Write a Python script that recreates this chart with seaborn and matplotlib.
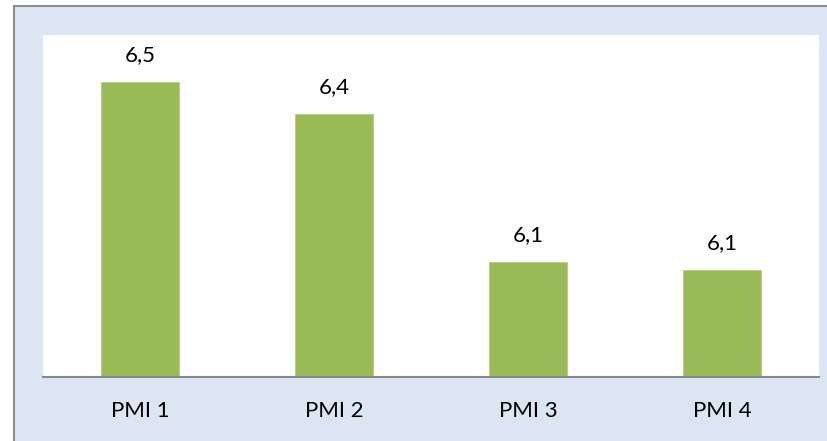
import matplotlib
matplotlib.use("Agg")
import matplotlib.pyplot as plt
import seaborn as sns
import pandas as pd
from matplotlib.patches import Rectangle

# data (labels are rounded to one decimal)
categorias = ["PMI 1", "PMI 2", "PMI 3", "PMI 4"]
valores = [6.49, 6.415, 6.07, 6.05]
etiquetas = ["6,5", "6,4", "6,1", "6,1"]

df = pd.DataFrame({"cat": categorias, "val": valores})

sns.set_theme(style="white")
plt.rcParams["font.family"] = ["Lato", "DejaVu Sans"]

W, H = 827, 441
fig = plt.figure(figsize=(W / 100, H / 100), dpi=100, facecolor="white")

# outer light-blue frame with grey top/left border
fig.patches.append(Rectangle((14 / W, 0), 1 - 14 / W, 1 - 6 / H, transform=fig.transFigure,
                             facecolor="#DCE6F2", edgecolor="none", zorder=-10))
fig.add_artist(plt.Line2D([14 / W, 14 / W], [0, 1 - 6 / H], transform=fig.transFigure,
                          color="#8C8C8C", lw=1.5, zorder=-5))
fig.add_artist(plt.Line2D([14 / W, 1], [1 - 6 / H, 1 - 6 / H], transform=fig.transFigure,
                          color="#8C8C8C", lw=1.5, zorder=-5))

ax = fig.add_axes([43 / W, 1 - 377 / H, (819 - 43) / W, (377 - 35) / H])
ax.set_facecolor("white")

sns.barplot(data=df, x="cat", y="val", color="#9BBB59", width=0.4, saturation=1,
            edgecolor="#B3CC80", linewidth=0.6, ax=ax)

ax.set_ylim(5.8, 6.6)
ax.set_xlim(-0.5, 3.5)

for i, (v, t) in enumerate(zip(valores, etiquetas)):
    ax.annotate(t, (i, v), xytext=(0, 12), textcoords="offset points",
                ha="center", va="bottom", fontsize=16, color="black")

for s in ["top", "left", "right"]:
    ax.spines[s].set_visible(False)
ax.spines["bottom"].set_color("#888888")
ax.spines["bottom"].set_linewidth(1.5)
ax.set_yticks([])
ax.set_xlabel("")
ax.set_ylabel("")
ax.tick_params(axis="x", length=0, pad=17, labelsize=16, colors="black")

fig.savefig("out.png", dpi=100, facecolor=fig.get_facecolor())
